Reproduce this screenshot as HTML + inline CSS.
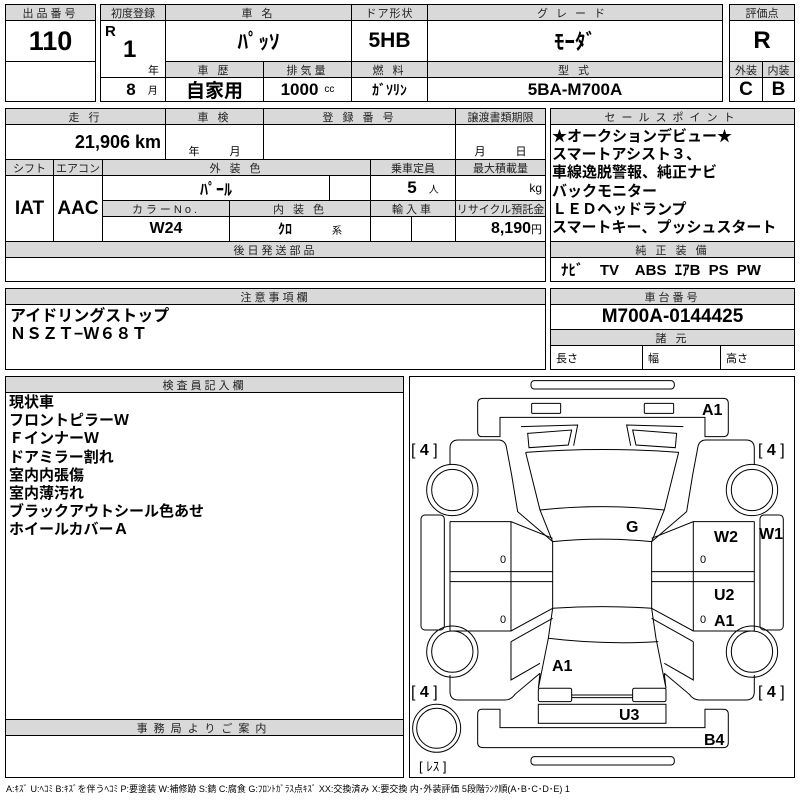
<!DOCTYPE html>
<html><head><meta charset="utf-8"><style>
body{margin:0;width:800px;height:800px;background:#fff;position:relative;overflow:hidden;font-family:"Liberation Sans","Noto Sans CJK JP",sans-serif;color:#000}
.c{position:absolute;box-sizing:border-box;border:1px solid #000;background:#fff;display:flex;align-items:center;justify-content:center;white-space:nowrap}
.h{background:#d9d9d9;font-size:11px;letter-spacing:3px;color:#222}
.v{font-weight:bold;font-size:19px}
.t{position:absolute;white-space:nowrap}
.ln{font-weight:bold;font-size:15px;line-height:18.2px;position:absolute;white-space:nowrap}
</style></head><body>
<!-- top box 1 -->
<div class="c h" style="left:5px;top:4px;width:91px;height:17px">出品番号</div>
<div class="c v" style="left:5px;top:20px;width:91px;height:42px;font-size:27px">110</div>
<div class="c" style="left:5px;top:61px;width:91px;height:41px"></div>
<!-- box 2 -->
<div class="c h" style="left:100px;top:4px;width:66px;height:17px;letter-spacing:0">初度登録</div>
<div class="c h" style="left:165px;top:4px;width:187px;height:17px">車 名</div>
<div class="c h" style="left:351px;top:4px;width:77px;height:17px;letter-spacing:1px">ドア形状</div>
<div class="c h" style="left:427px;top:4px;width:296px;height:17px;letter-spacing:8px">グレード</div>
<div class="c" style="left:100px;top:20px;width:66px;height:58px"></div>
<div class="t" style="left:105px;top:23px;font-weight:bold;font-size:15px">R</div>
<div class="t" style="left:123px;top:36px;font-weight:bold;font-size:24px">1</div>
<div class="t" style="left:148px;top:62px;font-size:11px">年</div>
<div class="c" style="left:100px;top:77px;width:66px;height:25px"><span style="font-weight:bold;font-size:17px;margin-left:18px">8</span><span style="font-size:10px;margin-left:12px">月</span></div>
<div class="c v" style="left:165px;top:20px;width:187px;height:42px;font-size:21px">ﾊﾟｯｿ</div>
<div class="c v" style="left:351px;top:20px;width:77px;height:42px;font-size:21px">5HB</div>
<div class="c v" style="left:427px;top:20px;width:296px;height:42px;font-size:21px">ﾓｰﾀﾞ</div>
<div class="c h" style="left:165px;top:61px;width:99px;height:17px">車 歴</div>
<div class="c h" style="left:263px;top:61px;width:89px;height:17px">排気量</div>
<div class="c h" style="left:351px;top:61px;width:77px;height:17px">燃 料</div>
<div class="c h" style="left:427px;top:61px;width:296px;height:17px">型 式</div>
<div class="c v" style="left:165px;top:77px;width:99px;height:25px">自家用</div>
<div class="c" style="left:263px;top:77px;width:89px;height:25px"><span style="font-weight:bold;font-size:17px">1000</span><span style="font-size:10px;margin-left:6px">cc</span></div>
<div class="c" style="left:351px;top:77px;width:77px;height:25px;font-size:14px;font-weight:bold">ｶﾞｿﾘﾝ</div>
<div class="c v" style="left:427px;top:77px;width:296px;height:25px;font-size:17px">5BA-M700A</div>
<!-- box 3 -->
<div class="c h" style="left:729px;top:4px;width:66px;height:17px;letter-spacing:0">評価点</div>
<div class="c v" style="left:729px;top:20px;width:66px;height:42px;font-size:24px">R</div>
<div class="c h" style="left:729px;top:61px;width:34px;height:17px;letter-spacing:0">外装</div>
<div class="c h" style="left:762px;top:61px;width:33px;height:17px;letter-spacing:0">内装</div>
<div class="c v" style="left:729px;top:77px;width:34px;height:25px">C</div>
<div class="c v" style="left:762px;top:77px;width:33px;height:25px">B</div>
<!-- section 2 -->
<div class="c h" style="left:5px;top:108px;width:161px;height:17px">走 行</div>
<div class="c h" style="left:165px;top:108px;width:99px;height:17px">車 検</div>
<div class="c h" style="left:263px;top:108px;width:193px;height:17px">登 録 番 号</div>
<div class="c h" style="left:455px;top:108px;width:91px;height:17px;letter-spacing:0">譲渡書類期限</div>
<div class="c" style="left:5px;top:124px;width:161px;height:36px;justify-content:flex-end;padding-right:4px;font-weight:bold;font-size:18px">21,906 km</div>
<div class="c" style="left:165px;top:124px;width:99px;height:36px;align-items:flex-end;font-size:11px"><span style="margin-right:30px">年</span><span>月</span></div>
<div class="c" style="left:263px;top:124px;width:193px;height:36px"></div>
<div class="c" style="left:455px;top:124px;width:91px;height:36px;align-items:flex-end;font-size:11px"><span style="margin-right:30px">月</span><span>日</span></div>
<div class="c h" style="left:5px;top:159px;width:49px;height:17px;letter-spacing:0">シフト</div>
<div class="c h" style="left:53px;top:159px;width:50px;height:17px;letter-spacing:0">エアコン</div>
<div class="c h" style="left:102px;top:159px;width:269px;height:17px">外 装 色</div>
<div class="c h" style="left:370px;top:159px;width:86px;height:17px;letter-spacing:0">乗車定員</div>
<div class="c h" style="left:455px;top:159px;width:91px;height:17px;letter-spacing:0">最大積載量</div>
<div class="c v" style="left:5px;top:175px;width:49px;height:67px">IAT</div>
<div class="c v" style="left:53px;top:175px;width:50px;height:67px">AAC</div>
<div class="c v" style="left:102px;top:175px;width:228px;height:26px;font-size:16px">ﾊﾟｰﾙ</div>
<div class="c" style="left:329px;top:175px;width:42px;height:26px"></div>
<div class="c" style="left:370px;top:175px;width:86px;height:26px"><span style="font-weight:bold;font-size:17px;margin-left:20px">5</span><span style="font-size:10px;margin-left:12px">人</span></div>
<div class="c" style="left:455px;top:175px;width:91px;height:26px;justify-content:flex-end;padding-right:3px;font-size:12px">kg</div>
<div class="c h" style="left:102px;top:200px;width:128px;height:17px">カラーNo.</div>
<div class="c h" style="left:229px;top:200px;width:142px;height:17px">内 装 色</div>
<div class="c h" style="left:370px;top:200px;width:86px;height:17px">輸入車</div>
<div class="c h" style="left:455px;top:200px;width:91px;height:17px;letter-spacing:0">リサイクル預託金</div>
<div class="c v" style="left:102px;top:216px;width:128px;height:26px;font-size:16px">W24</div>
<div class="c" style="left:229px;top:216px;width:142px;height:26px"><span style="font-weight:bold;font-size:14px;margin-left:20px">ｸﾛ</span><span style="font-size:10px;margin-left:40px">系</span></div>
<div class="c" style="left:370px;top:216px;width:42px;height:26px"></div>
<div class="c" style="left:411px;top:216px;width:45px;height:26px"></div>
<div class="c" style="left:455px;top:216px;width:91px;height:26px;justify-content:flex-end;padding-right:3px"><b style="font-size:16px">8,190</b><span style="font-size:11px">円</span></div>
<div class="c h" style="left:5px;top:241px;width:541px;height:17px">後日発送部品</div>
<div class="c" style="left:5px;top:257px;width:541px;height:25px"></div>
<div class="c h" style="left:550px;top:108px;width:245px;height:17px;letter-spacing:6px">セールスポイント</div>
<div class="c" style="left:550px;top:124px;width:245px;height:118px"></div>
<div class="ln" style="left:552px;top:128px">★オークションデビュー★<br>スマートアシスト３、<br>車線逸脱警報、純正ナビ<br>バックモニター<br>ＬＥＤヘッドランプ<br>スマートキー、プッシュスタート</div>
<div class="c h" style="left:550px;top:241px;width:245px;height:17px">純 正 装 備</div>
<div class="c" style="left:550px;top:257px;width:245px;height:25px;justify-content:flex-start;padding-left:10px;font-weight:bold;font-size:15px;word-spacing:4px">ﾅﾋﾞ&nbsp; TV&nbsp; ABS ｴｱB PS PW</div>
<!-- section 3 -->
<div class="c h" style="left:5px;top:288px;width:541px;height:17px">注意事項欄</div>
<div class="c" style="left:5px;top:304px;width:541px;height:66px"></div>
<div class="ln" style="left:10px;top:308px;font-size:16px">アイドリングストップ<br>ＮＳＺＴ−Ｗ６８Ｔ</div>
<div class="c h" style="left:550px;top:288px;width:245px;height:17px">車台番号</div>
<div class="c v" style="left:550px;top:304px;width:245px;height:26px">M700A-0144425</div>
<div class="c h" style="left:550px;top:329px;width:245px;height:17px">諸 元</div>
<div class="c" style="left:550px;top:345px;width:93px;height:25px;justify-content:flex-start;padding-left:5px;font-size:11px">長さ</div>
<div class="c" style="left:642px;top:345px;width:79px;height:25px;justify-content:flex-start;padding-left:5px;font-size:11px">幅</div>
<div class="c" style="left:720px;top:345px;width:75px;height:25px;justify-content:flex-start;padding-left:5px;font-size:11px">高さ</div>
<!-- section 4 -->
<div class="c h" style="left:5px;top:376px;width:399px;height:17px">検査員記入欄</div>
<div class="c" style="left:5px;top:392px;width:399px;height:328px"></div>
<div class="ln" style="left:9px;top:394px">現状車<br>フロントピラーＷ<br>ＦインナーＷ<br>ドアミラー割れ<br>室内内張傷<br>室内薄汚れ<br>ブラックアウトシール色あせ<br>ホイールカバーＡ</div>
<div class="c h" style="left:5px;top:719px;width:399px;height:17px;letter-spacing:6px">事務局よりご案内</div>
<div class="c" style="left:5px;top:735px;width:399px;height:43px"></div>
<div class="c" style="left:409px;top:376px;width:386px;height:402px"></div>
<svg style="position:absolute;left:0;top:0" width="800" height="800">
<g transform="translate(405,375) scale(0.3333)" fill="none" stroke="#000" stroke-width="3">
<rect x="378" y="17" width="430" height="25" rx="10"/>
<rect x="378" y="1145" width="430" height="25" rx="10"/>
<path d="M285,185 L230,185 Q218,185 218,170 L218,85 Q218,70 235,70 L955,70 Q970,70 970,85 L970,170 Q970,185 955,185 L900,185 L900,127 L285,127 Z"/>
<rect x="380" y="85" width="87" height="30" rx="3"/>
<rect x="718" y="85" width="88" height="30" rx="3"/>
<path d="M285,1003 L230,1003 Q218,1003 218,1018 L218,1103 Q218,1118 235,1118 L955,1118 Q970,1118 970,1103 L970,1018 Q970,1003 955,1003 L900,1003 L900,1058 L285,1058 Z"/>
<g id="half">
<path d="M135,270 L135,220 Q135,195 160,195 L280,195 Q302,195 305,220 L320,300 L338,410 L443,500"/>
<path d="M348,155 L518,150 L506,212 M368,175 L500,165 L490,210 L372,218 Z"/>
<path d="M362,232 L405,405 L443,500 M405,895 L400,940 L430,790 L443,700"/>
<circle cx="142" cy="345" r="77"/><circle cx="142" cy="345" r="62"/>
<circle cx="142" cy="830" r="77"/><circle cx="142" cy="830" r="62"/>
<rect x="48" y="420" width="70" height="345" rx="12"/>
<path d="M135,440 L318,440 L443,490 M135,590 L443,590 M135,620 L443,620 M318,440 L318,768 M135,440 L135,768 L318,768 L443,700"/>
<path d="M318,800 L443,730 M318,800 L318,915 L405,865 M135,900 L135,950 Q135,975 160,975 L300,975 Q318,975 330,958 L405,895"/>
<rect x="400" y="940" width="100" height="40" rx="5"/>
</g>
<use href="#half" transform="translate(1183,0) scale(-1,1)"/>
<path d="M362,232 Q592,215 822,232 M405,405 Q592,385 778,405 M443,500 Q592,485 740,500 L740,700 Q592,690 443,700 Z M430,790 Q592,810 760,800"/>
<path d="M500,960 L683,960 M500,968 L683,968"/>
<rect x="400" y="988" width="383" height="57"/>
<circle cx="95" cy="1060" r="72"/><circle cx="95" cy="1060" r="60"/>
</g>
<g font-family="Liberation Sans" font-weight="bold" font-size="16" fill="#000">
<text x="702" y="415">A1</text>
<text x="411" y="455" font-weight="normal">[ <tspan font-weight="bold">4</tspan> ]</text>
<text x="758" y="455" font-weight="normal">[ <tspan font-weight="bold">4</tspan> ]</text>
<text x="411" y="697" font-weight="normal">[ <tspan font-weight="bold">4</tspan> ]</text>
<text x="758" y="697" font-weight="normal">[ <tspan font-weight="bold">4</tspan> ]</text>
<text x="626" y="532">G</text>
<text x="714" y="542">W2</text>
<text x="759" y="539">W1</text>
<text x="714" y="600">U2</text>
<text x="714" y="626">A1</text>
<text x="552" y="671">A1</text>
<text x="619" y="720">U3</text>
<text x="704" y="745">B4</text>
<text x="419" y="771" font-weight="normal" font-size="13">[ ﾚｽ ]</text>
<text x="500" y="563" font-weight="normal" font-size="11">0</text>
<text x="500" y="623" font-weight="normal" font-size="11">0</text>
<text x="700" y="563" font-weight="normal" font-size="11">0</text>
<text x="700" y="623" font-weight="normal" font-size="11">0</text>
</g>
</svg>
<div class="t" style="left:6px;top:782px;font-size:9px;letter-spacing:0">A:ｷｽﾞ U:ﾍｺﾐ B:ｷｽﾞを伴うﾍｺﾐ P:要塗装 W:補修跡 S:錆 C:腐食 G:ﾌﾛﾝﾄｶﾞﾗｽ点ｷｽﾞ XX:交換済み X:要交換 内･外装評価 5段階ﾗﾝｸ順(A･B･C･D･E) 1</div>
</body></html>
